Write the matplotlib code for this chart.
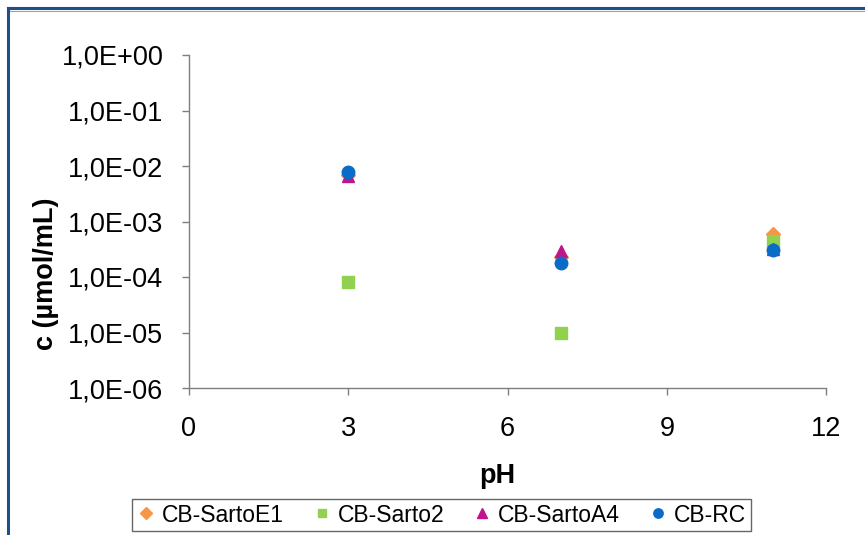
import numpy as np
import matplotlib
matplotlib.use("Agg")
import matplotlib.pyplot as plt
from matplotlib.ticker import FuncFormatter, FixedLocator
from matplotlib.lines import Line2D

plt.rcParams['font.family'] = ['Liberation Sans', 'DejaVu Sans']

# data
ph = [3, 7, 11]
sarto_e1 = [7.0e-3, 2.3e-4, 6.0e-4]
sarto_2 = [8.0e-5, 1.0e-5, 4.5e-4]
sarto_a4 = [6.5e-3, 2.9e-4, 3.2e-4]
cb_rc = [7.8e-3, 1.8e-4, 3.1e-4]

series_names = ['CB-SartoE1', 'CB-Sarto2', 'CB-SartoA4', 'CB-RC']
x_ticks = [0, 3, 6, 9, 12]
y_exps = [-6, -5, -4, -3, -2, -1, 0]

W, H = 865, 535
fig = plt.figure(figsize=(W / 100, H / 100), dpi=100)
ax = fig.add_axes([189 / W, 1 - 388 / H, (826 - 189) / W, (388 - 55) / H])

ax.plot(ph, sarto_e1, linestyle='none', marker='D', markersize=7.5, color='#F79646', label=series_names[0])
ax.plot(ph, sarto_2, linestyle='none', marker='s', markersize=8, color='#92D050', label=series_names[1])
ax.plot(ph, sarto_a4, linestyle='none', marker='^', markersize=9, color='#C0148C', label=series_names[2])
ax.plot(ph, cb_rc, linestyle='none', marker='o', markersize=9, color='#0A6CC8', label=series_names[3])

ax.set_yscale('log')
ax.set_ylim(1e-6, 1e0)
ax.set_xlim(0, 12)
ax.xaxis.set_major_locator(FixedLocator(x_ticks))
ax.yaxis.set_major_locator(FixedLocator([10.0 ** e for e in y_exps]))
ax.yaxis.set_minor_locator(FixedLocator([]))


def sci_comma(v, pos):
    e = int(round(np.log10(v)))
    sign = '+' if e >= 0 else '-'
    return '1,0E' + sign + '%02d' % abs(e)


ax.yaxis.set_major_formatter(FuncFormatter(sci_comma))

for side in ['top', 'right']:
    ax.spines[side].set_visible(False)
for side in ['left', 'bottom']:
    ax.spines[side].set_color('#7f7f7f')
    ax.spines[side].set_linewidth(1.0)

ax.tick_params(axis='both', direction='out', length=5, width=1.0, color='#7f7f7f',
               labelsize=19.5, labelcolor='black')
ax.tick_params(axis='x', pad=15)
ax.tick_params(axis='y', pad=13.5)

# axis titles placed like the reference
fig.text(497 / W, 1 - 476 / H, 'pH', fontsize=19.5, fontweight='bold', ha='center', va='center')
fig.text(46 / W, 1 - 274 / H, 'c (µmol/mL)', fontsize=19.5, fontweight='bold',
         rotation=90, ha='center', va='center')

leg = fig.legend(loc='center', bbox_to_anchor=(441.5 / W, 1 - 515 / H), ncol=4,
                 fontsize=16.5, frameon=True, fancybox=False, markerscale=0.75,
                 handlelength=0.8, handletextpad=0.3, columnspacing=1.25,
                 borderpad=0.2, borderaxespad=0)
leg.get_frame().set_edgecolor('#404040')
leg.get_frame().set_linewidth(1.0)

# blue frame at top and left edges
fig.add_artist(Line2D([8 / W, 1], [1 - 8 / H, 1 - 8 / H], color='#1F4E8C', linewidth=2.2))
fig.add_artist(Line2D([8 / W, 8 / W], [0, 1 - 8 / H], color='#1F4E8C', linewidth=2.2))
fig.add_artist(Line2D([10 / W, 1], [1 - 10.5 / H, 1 - 10.5 / H], color='#a0a0a0', linewidth=0.8))

fig.savefig('out.png', dpi=100)
